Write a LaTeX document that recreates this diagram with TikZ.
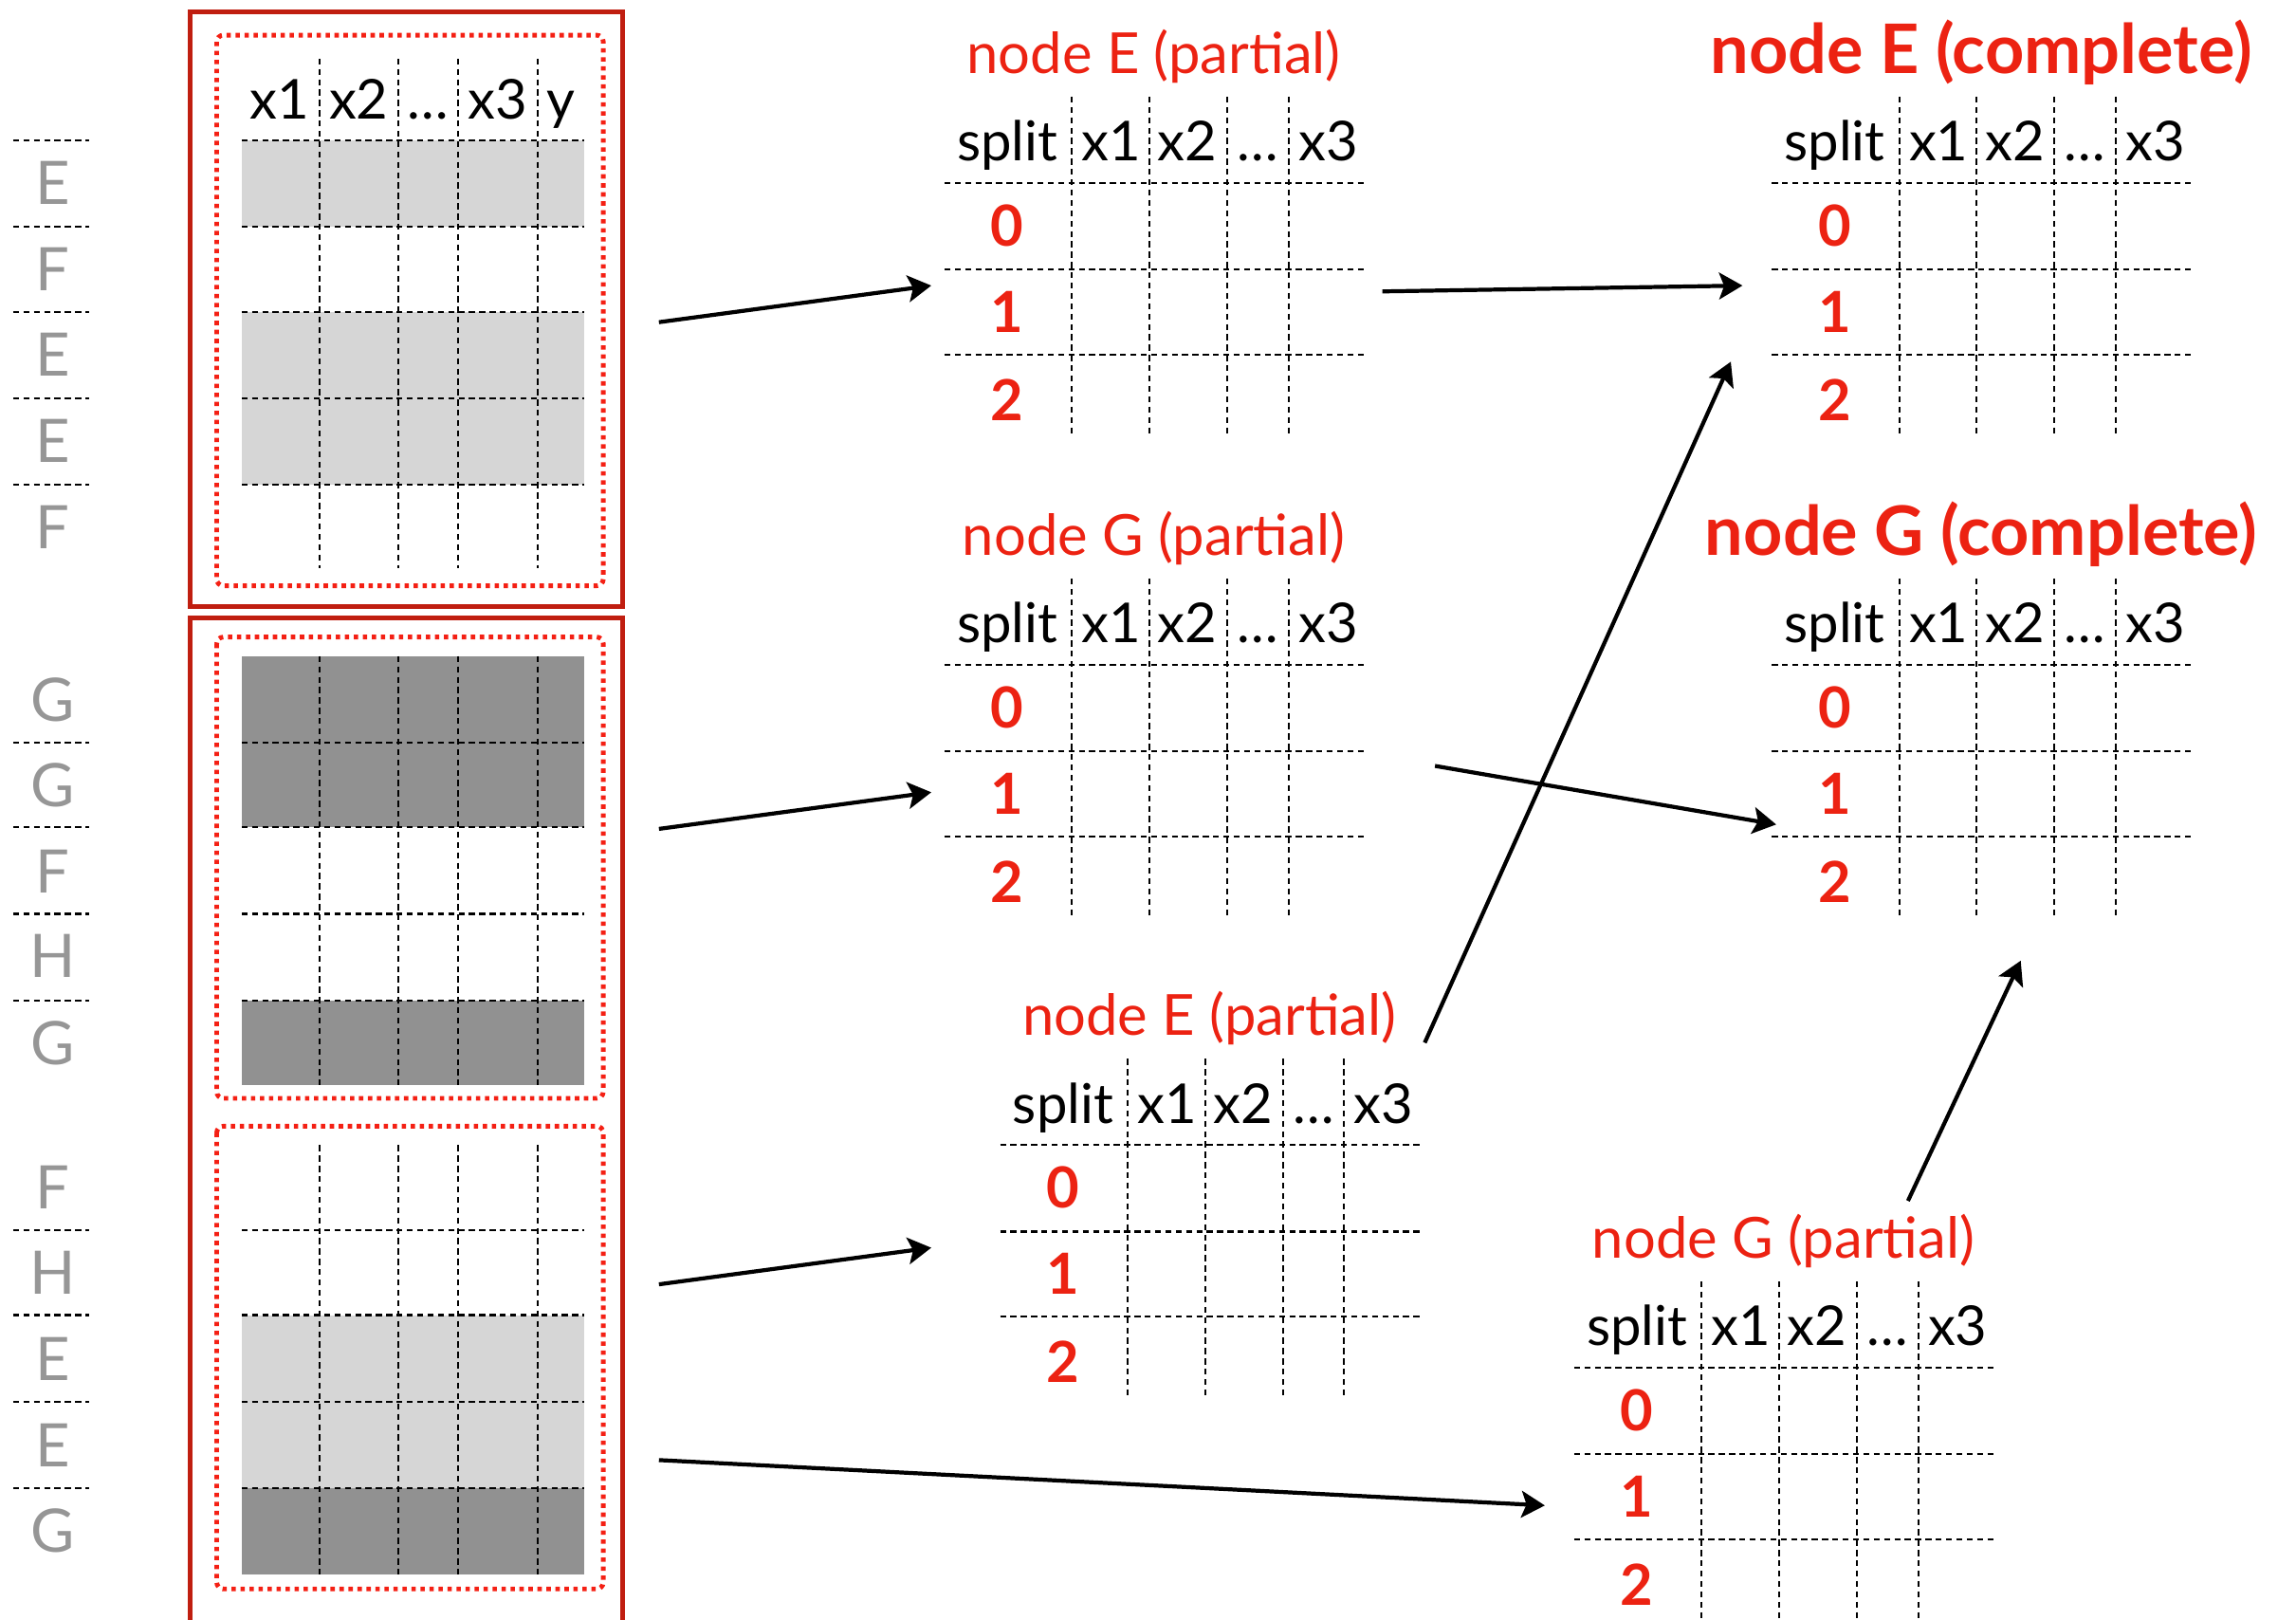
\documentclass[tikz,border=0pt]{standalone}
\usepackage{fontspec}
\setmainfont{Lato}
\usetikzlibrary{arrows.meta, positioning}

\definecolor{titlered}{RGB}{236,34,18}
\definecolor{boxred}{RGB}{192,30,16}
\definecolor{dotred}{RGB}{244,32,20}
\definecolor{lightrow}{RGB}{214,214,214}
\definecolor{darkrow}{RGB}{145,145,145}
\definecolor{letgray}{RGB}{150,150,150}

% split table: name, origin (left end of header rule), title, title style
\newcommand{\splittable}[4]{%
  \begin{scope}[shift={#2}]
    \node[#4] (#1) at (143,-75) {#3};
    \foreach \y in {0,59,117} \draw[gridline] (0,\y) -- (288,\y);
    \foreach \x in {87,140,193,235} \draw[gridline] (\x,-59) -- (\x,173);
    \foreach \t/\x [count=\i] in {split/43, x1/114, x2/166, \dots/214, x3/262}
      \node[head] (#1-h\i) at (\x,-15) {\t};
    \foreach \t/\y in {0/43, 1/102, 2/162}
      \node[rowlbl] (#1-r\t) at (43,\y) {\t};
  \end{scope}}

\begin{document}
\begin{tikzpicture}[x=0.01544cm, y=-0.01544cm]
  \tikzset{
    title/.style={text=titlered, anchor=base, inner sep=0pt,
      font=\fontsize{17}{20}\selectfont},
    donetitle/.style={text=titlered, anchor=base, inner sep=0pt,
      font=\fontsize{20.5}{24}\selectfont\bfseries},
    head/.style={anchor=base, inner sep=0pt, font=\fontsize{16.5}{20}\selectfont},
    rowlbl/.style={text=titlered, anchor=base, inner sep=0pt,
      font=\fontsize{17}{20}\selectfont\bfseries},
    rowtag/.style={text=letgray, inner sep=0pt, font=\fontsize{18}{20}\selectfont},
    gridline/.style={line width=0.6pt, dash pattern=on 1.8pt off 1.3pt},
    outerbox/.style={draw=boxred, line width=1.5pt},
    innerbox/.style={draw=dotred, line width=1.4pt, dash pattern=on 1.3pt off 1.4pt,
      rounded corners=2pt},
    flow/.style={-{Stealth[length=7pt, width=8pt, inset=1.5pt]}, line width=1.2pt},
  }
  \useasboundingbox (0,0) rectangle (1568,1106);

  % shaded rows
  \fill[lightrow] (165,96) rectangle (399,155);
  \fill[lightrow] (165,213) rectangle (399,331);
  \fill[darkrow] (165,448) rectangle (399,565);
  \fill[darkrow] (165,683) rectangle (399,741);
  \fill[lightrow] (165,898) rectangle (399,1016);
  \fill[darkrow] (165,1016) rectangle (399,1075);

  % row rules and column rules of the data
  \foreach \y in {96,155,213,272,331,507,565,624,683,840,898,957,1016} {
    \draw[gridline] (9,\y) -- (61,\y);
    \draw[gridline] (165,\y) -- (399,\y);
  }
  \foreach \x in {218,272,313,367} {
    \draw[gridline] (\x,40) -- (\x,388);
    \draw[gridline] (\x,448) -- (\x,741);
    \draw[gridline] (\x,782) -- (\x,1075);
  }
  \foreach \t/\x [count=\i] in {x1/191, x2/245, \dots/292, x3/340, y/383}
    \node[head] (col\i) at (\x,81) {\t};

  % row keys
  \foreach \t/\y [count=\i] in {E/125, F/184, E/242, E/301, F/360,
      G/478, G/536, F/595, H/653, G/712, F/811, H/869, E/928, E/987, G/1045}
    \node[rowtag] (tag\i) at (36,\y) {\t};

  % partitions
  \draw[outerbox] (130,8) rectangle (425,414);
  \draw[outerbox] (130,1106) -- (130,422) -- (425,422) -- (425,1106);
  \draw[innerbox] (148,24) rectangle (412,400);
  \draw[innerbox] (148,435) rectangle (412,750);
  \draw[innerbox] (148,769) rectangle (412,1085);

  % split tables
  \splittable{tEa}{(645,125)}{node E (partial)}{title}
  \splittable{tGa}{(645,454)}{node G (partial)}{title}
  \splittable{tEb}{(683,782)}{node E (partial)}{title}
  \splittable{tGb}{(1075,934)}{node G (partial)}{title}
  \splittable{tEc}{(1210,125)}{node E (complete)}{donetitle}
  \splittable{tGc}{(1210,454)}{node G (complete)}{donetitle}

  % arrow ends
  \coordinate (p1) at (450,220);   \coordinate (inEa) at (636,195);
  \coordinate (p2) at (450,566);   \coordinate (inGa) at (636,541);
  \coordinate (p3) at (450,877);   \coordinate (inEb) at (636,852);
  \coordinate (p4) at (450,997);   \coordinate (inGb) at (1055,1028);
  \coordinate (outEa) at (944,199); \coordinate (inEc) at (1190,195);
  \coordinate (outGa) at (980,523); \coordinate (inGc) at (1213,563);
  \coordinate (outEb) at (973,712); \coordinate (inEc2) at (1182,247);
  \coordinate (outGb) at (1303,820); \coordinate (inGc2) at (1380,656);

  \draw[flow] (p1) -- (inEa);
  \draw[flow] (p2) -- (inGa);
  \draw[flow] (p3) -- (inEb);
  \draw[flow] (p4) -- (inGb);
  \draw[flow] (outEa) -- (inEc);
  \draw[flow] (outGa) -- (inGc);
  \draw[flow] (outEb) -- (inEc2);
  \draw[flow] (outGb) -- (inGc2);
\end{tikzpicture}
\end{document}
